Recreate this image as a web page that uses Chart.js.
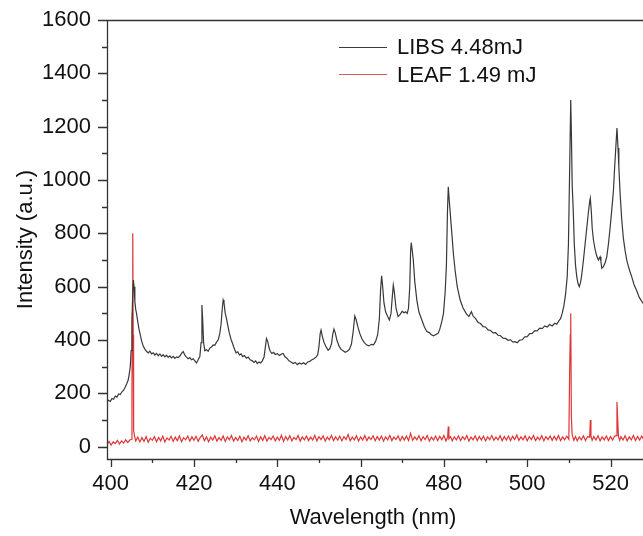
<!DOCTYPE html>
<html>
<head>
<meta charset="utf-8">
<title>LIBS / LEAF spectrum</title>
<script src="https://cdn.jsdelivr.net/npm/chart.js@4.4.1/dist/chart.umd.min.js"></script>
<style>
  html, body { margin: 0; padding: 0; background: #fff; }
  #wrap { width: 643px; height: 536px; }
</style>
</head>
<body>
<div id="wrap"><canvas id="spectrum" width="643" height="536"></canvas></div>
<script>
// series names + axis labels
const seriesNames = ['LIBS 4.48mJ', 'LEAF 1.49 mJ'];
const xTitle = 'Wavelength (nm)';
const yTitle = 'Intensity (a.u.)';

// tick values
const xTicks = [400, 420, 440, 460, 480, 500, 520];
const xMinorTicks = [410, 430, 450, 470, 490, 510];
const yTicks = [0, 200, 400, 600, 800, 1000, 1200, 1400, 1600];
const yMinorTicks = [100, 300, 500, 700, 900, 1100, 1300, 1500];

// LIBS spectrum: [wavelength nm, intensity]
const libsSpectrum = [
  [399.1,168],[399.5,174],[399.9,170],[400.3,181],[400.7,178],[401.1,190],[401.5,186],[401.9,198],
  [402.3,196],[402.7,206],[403.1,212],[403.5,224],[403.9,238],[404.2,250],[404.5,278],[404.7,300],
  [404.9,360],[405.1,470],[405.3,580],[405.45,625],[405.6,600],[405.8,545],[406.0,515],[406.2,500],
  [406.5,468],[406.8,440],[407.1,420],[407.4,398],[407.8,378],[408.2,366],[408.6,358],[409.0,352],
  [409.4,358],[409.8,348],[410.2,352],[410.6,344],[411.0,350],[411.4,341],[411.8,348],[412.2,339],
  [412.6,345],[413.0,337],[413.4,343],[413.8,335],[414.2,341],[414.6,333],[415.0,339],[415.4,331],
  [415.8,337],[416.2,334],[416.6,340],[417.0,350],[417.4,357],[417.8,343],[418.2,336],[418.6,330],
  [419.0,334],[419.4,326],[419.8,330],[420.2,322],[420.6,314],[421.0,326],[421.4,338],[421.7,390],
  [421.9,531],[422.1,470],[422.3,390],[422.6,360],[423.0,364],[423.4,358],[423.8,370],[424.2,374],
  [424.6,382],[425.0,380],[425.4,392],[425.8,400],[426.2,425],[426.5,460],[426.8,520],[427.0,550],
  [427.2,540],[427.5,500],[427.8,480],[428.1,455],[428.5,425],[428.9,402],[429.3,385],[429.7,366],
  [430.1,352],[430.5,356],[430.9,344],[431.3,348],[431.7,338],[432.1,342],[432.6,332],[433.0,336],
  [433.5,326],[434.0,322],[434.4,316],[434.8,322],[435.2,312],[435.6,318],[436.0,314],[436.4,322],
  [436.8,335],[437.1,370],[437.4,406],[437.7,395],[438.0,372],[438.3,358],[438.7,350],[439.1,354],
  [439.5,346],[440.0,349],[440.5,342],[441.0,348],[441.4,350],[441.8,338],[442.3,332],[442.8,322],
  [443.3,318],[443.8,312],[444.3,316],[444.8,308],[445.3,314],[445.8,310],[446.3,315],[446.8,309],
  [447.3,318],[447.8,320],[448.3,326],[448.8,330],[449.3,336],[449.7,345],[450.0,375],[450.3,425],
  [450.5,437],[450.8,415],[451.2,392],[451.7,375],[452.2,362],[452.6,368],[453.0,385],[453.3,420],
  [453.6,441],[453.9,428],[454.3,400],[454.8,378],[455.3,365],[455.8,360],[456.3,354],[456.8,358],
  [457.3,365],[457.8,385],[458.2,430],[458.6,490],[458.9,478],[459.3,452],[459.8,425],[460.3,405],
  [460.8,392],[461.4,382],[462.0,378],[462.6,384],[463.1,382],[463.6,395],[464.1,420],[464.5,480],
  [464.8,590],[465.05,641],[465.3,600],[465.6,540],[466.0,506],[466.5,488],[466.9,475],[467.3,500],
  [467.6,560],[467.85,606],[468.1,580],[468.5,520],[469.0,488],[469.5,496],[470.0,508],[470.4,502],
  [470.8,506],[471.2,500],[471.5,520],[471.8,600],[472.0,730],[472.15,765],[472.4,735],[472.65,700],
  [473.0,620],[473.5,550],[474.0,505],[474.7,475],[475.3,450],[475.9,432],[476.5,428],[477.0,420],
  [477.5,416],[478.0,420],[478.6,425],[479.0,440],[479.5,470],[479.9,500],[480.3,580],[480.6,680],
  [480.85,880],[481.05,975],[481.3,920],[481.6,860],[481.9,800],[482.3,720],[482.7,660],[483.2,600],
  [483.9,550],[484.6,520],[485.4,498],[486.0,488],[486.6,506],[487.0,490],[487.6,480],[488.2,466],
  [488.8,462],[489.4,450],[490.0,449],[490.6,438],[491.2,436],[491.8,427],[492.4,428],[493.0,418],
  [493.6,416],[494.2,407],[494.8,406],[495.4,399],[496.0,401],[496.6,392],[497.1,394],[497.6,390],
  [498.2,400],[498.8,401],[499.4,412],[500.0,413],[500.6,424],[501.2,425],[501.8,435],[502.4,434],
  [503.0,445],[503.6,443],[504.2,453],[504.8,449],[505.4,458],[506.0,453],[506.6,463],[507.1,459],
  [507.6,472],[508.0,480],[508.4,500],[508.8,528],[509.2,570],[509.6,637],[509.9,760],[510.2,1050],
  [510.45,1300],[510.6,1180],[510.8,980],[511.05,888],[511.3,760],[511.6,680],[511.9,637],[512.2,612],
  [512.5,600],[512.8,615],[513.1,645],[513.5,700],[513.9,760],[514.3,820],[514.7,880],[515.0,920],
  [515.15,932],[515.4,880],[515.6,820],[515.9,775],[516.3,740],[516.7,715],[517.1,700],[517.5,712],
  [517.7,695],[517.9,669],[518.3,675],[518.7,690],[519.1,712],[519.5,760],[519.9,820],[520.3,888],
  [520.7,960],[521.0,1050],[521.3,1130],[521.55,1195],[521.8,1120],[522.0,1050],[522.3,950],[522.7,850],
  [523.1,780],[523.5,735],[523.9,700],[524.4,670],[525.1,637],[525.7,605],[526.3,585],[526.9,560],
  [527.5,545],[527.9,537]
];

// LEAF spectrum: [wavelength nm, intensity]
const leafSpectrum = [
  [399.1,8],[399.6,20],[400.1,6],[400.6,18],[401.1,12],[401.6,24],[402.1,10],[402.6,22],
  [403.1,14],[403.6,26],[404.1,16],[404.6,25],[405.0,28],[405.1,200],[405.2,500],[405.3,800],
  [405.4,420],[405.5,60],[405.7,42],[406.0,22],[406.5,36],[407.0,18],[407.5,34],[408.0,20],
  [408.5,38],[409.0,17],[409.5,32],[410.0,24],[410.5,38],[411.0,19],[411.5,35],[412.0,22],
  [412.5,40],[413.0,18],[413.5,33],[414.0,25],[414.5,39],[415.0,20],[415.5,36],[416.0,23],
  [416.5,41],[417.0,19],[417.5,34],[418.0,26],[418.5,40],[419.0,21],[419.5,37],[420.0,24],
  [420.5,39],[421.0,20],[421.5,35],[422.0,44],[422.5,22],[423.0,37],[423.5,19],[424.0,36],
  [424.5,25],[425.0,41],[425.5,21],[426.0,34],[426.5,24],[427.0,40],[427.5,20],[428.0,37],
  [428.5,26],[429.0,42],[429.5,21],[430.0,35],[430.5,23],[431.0,39],[431.5,19],[432.0,36],
  [432.5,25],[433.0,41],[433.5,22],[434.0,34],[434.5,26],[435.0,40],[435.5,20],[436.0,37],
  [436.5,24],[437.0,42],[437.5,21],[438.0,35],[438.5,27],[439.0,40],[439.5,22],[440.0,36],
  [440.5,24],[441.0,43],[441.5,20],[442.0,38],[442.5,25],[443.0,41],[443.5,22],[444.0,35],
  [444.5,27],[445.0,42],[445.5,21],[446.0,37],[446.5,26],[447.0,40],[447.5,23],[448.0,36],
  [448.5,25],[449.0,43],[449.5,22],[450.0,38],[450.5,27],[451.0,41],[451.5,21],[452.0,36],
  [452.5,26],[453.0,42],[453.5,23],[454.0,37],[454.5,25],[455.0,40],[455.5,22],[456.0,38],
  [456.5,27],[457.0,46],[457.5,22],[458.0,36],[458.5,26],[459.0,41],[459.5,21],[460.0,37],
  [460.5,25],[461.0,42],[461.5,23],[462.0,36],[462.5,27],[463.0,41],[463.5,22],[464.0,38],
  [464.5,25],[465.0,40],[465.5,21],[466.0,37],[466.5,26],[467.0,42],[467.5,23],[468.0,36],
  [468.5,27],[469.0,41],[469.5,22],[470.0,38],[470.5,25],[471.0,40],[471.5,23],[472.0,50],
  [472.5,24],[473.0,37],[473.5,26],[474.0,41],[474.5,22],[475.0,38],[475.5,27],[476.0,42],
  [476.5,21],[477.0,36],[477.5,25],[478.0,40],[478.5,23],[479.0,39],[479.5,26],[480.0,42],
  [480.5,22],[480.9,36],[481.05,76],[481.2,30],[481.6,38],[482.0,22],[482.5,37],[483.0,26],
  [483.5,41],[484.0,23],[484.5,38],[485.0,27],[485.5,42],[486.0,21],[486.5,36],[487.0,26],
  [487.5,41],[488.0,23],[488.5,38],[489.0,25],[489.5,40],[490.0,22],[490.5,37],[491.0,27],
  [491.5,42],[492.0,24],[492.5,36],[493.0,26],[493.5,41],[494.0,22],[494.5,38],[495.0,25],
  [495.5,40],[496.0,23],[496.5,39],[497.0,27],[497.5,44],[498.0,24],[498.5,37],[499.0,26],
  [499.5,41],[500.0,22],[500.5,38],[501.0,27],[501.5,42],[502.0,23],[502.5,36],[503.0,26],
  [503.5,41],[504.0,22],[504.5,38],[505.0,27],[505.5,40],[506.0,24],[506.5,39],[507.0,25],
  [507.5,42],[508.0,23],[508.5,37],[509.0,26],[509.5,40],[510.0,28],[510.2,300],[510.35,420],
  [510.45,500],[510.6,110],[510.8,44],[511.2,24],[511.6,38],[512.0,22],[512.5,37],[513.0,26],
  [513.5,41],[514.0,23],[514.5,38],[515.0,36],[515.15,100],[515.3,40],[515.6,24],[516.0,38],
  [516.5,25],[517.0,41],[517.5,22],[518.0,37],[518.5,26],[519.0,40],[519.5,23],[520.0,38],
  [520.5,25],[521.0,40],[521.4,42],[521.55,168],[521.7,110],[521.9,40],[522.2,24],[522.5,38],
  [523.0,25],[523.5,41],[524.0,22],[524.5,37],[525.0,26],[525.5,42],[526.0,23],[526.5,38],
  [527.0,25],[527.5,40],[527.9,28]
];

const lineColors = ['#383838', '#de3535'];
const legendColors = ['#3d3d3d', '#d95a5a'];
const fontFamily = '"Liberation Sans", Arial, sans-serif';

// axes frame, tick marks, titles and legend drawn on top
const frameAndLegend = {
  id: 'frameAndLegend',
  afterDraw(chart) {
    const ctx = chart.ctx;
    const area = chart.chartArea;
    const xs = chart.scales.x;
    const ys = chart.scales.y;
    ctx.save();
    ctx.strokeStyle = '#333';
    ctx.lineWidth = 1.3;

    // left, bottom and top lines (right side is cut off)
    ctx.beginPath();
    ctx.moveTo(area.right, area.top + 0.5);
    ctx.lineTo(area.left + 0.5, area.top + 0.5);
    ctx.lineTo(area.left + 0.5, area.bottom + 0.5);
    ctx.lineTo(area.right, area.bottom + 0.5);
    ctx.stroke();

    // tick marks, pointing outward
    ctx.beginPath();
    xTicks.forEach(v => {
      const px = Math.round(xs.getPixelForValue(v)) + 0.5;
      ctx.moveTo(px, area.bottom);
      ctx.lineTo(px, area.bottom + 8);
    });
    xMinorTicks.forEach(v => {
      const px = Math.round(xs.getPixelForValue(v)) + 0.5;
      ctx.moveTo(px, area.bottom);
      ctx.lineTo(px, area.bottom + 4);
    });
    yTicks.forEach(v => {
      const py = Math.round(ys.getPixelForValue(v)) + 0.5;
      ctx.moveTo(area.left, py);
      ctx.lineTo(area.left - 9, py);
    });
    yMinorTicks.forEach(v => {
      const py = Math.round(ys.getPixelForValue(v)) + 0.5;
      ctx.moveTo(area.left, py);
      ctx.lineTo(area.left - 5, py);
    });
    ctx.stroke();

    // axis titles
    ctx.fillStyle = '#111';
    ctx.font = '22px ' + fontFamily;
    ctx.textAlign = 'center';
    ctx.textBaseline = 'alphabetic';
    ctx.fillText(xTitle, (area.left + area.right) / 2 - 2, 524);
    ctx.save();
    ctx.translate(32, (area.top + area.bottom) / 2);
    ctx.rotate(-Math.PI / 2);
    ctx.fillText(yTitle, 0, 0);
    ctx.restore();

    // legend
    ctx.textAlign = 'left';
    ctx.lineWidth = 1;
    seriesNames.forEach((name, i) => {
      const y = 46.5 + i * 27.5;
      ctx.strokeStyle = legendColors[i];
      ctx.beginPath();
      ctx.moveTo(339, Math.round(y) + 0.5);
      ctx.lineTo(387, Math.round(y) + 0.5);
      ctx.stroke();
      ctx.fillText(name, 397, y + 7.5);
    });
    ctx.restore();
  }
};

const tickFont = { family: fontFamily, size: 22, lineHeight: 1 };
const plainLabel = v => String(v);

new Chart(document.getElementById('spectrum'), {
  type: 'scatter',
  data: {
    datasets: [
      {
        label: seriesNames[0],
        data: libsSpectrum.map(p => ({ x: p[0], y: p[1] })),
        showLine: true,
        borderColor: lineColors[0],
        borderWidth: 1.2,
        pointRadius: 0,
        tension: 0
      },
      {
        label: seriesNames[1],
        data: leafSpectrum.map(p => ({ x: p[0], y: p[1] })),
        showLine: true,
        borderColor: lineColors[1],
        borderWidth: 1.2,
        pointRadius: 0,
        tension: 0
      }
    ]
  },
  options: {
    responsive: false,
    animation: false,
    layout: { padding: { top: 20, right: 0, left: 0, bottom: 0 } },
    plugins: {
      legend: { display: false },
      tooltip: { enabled: false }
    },
    scales: {
      x: {
        type: 'linear',
        min: 399.11,
        max: 527.8,
        afterFit: s => { s.height = 77; s.paddingLeft = 0; s.paddingRight = 0; },
        afterBuildTicks: s => { s.ticks = xTicks.map(v => ({ value: v })); },
        grid: { display: false, drawTicks: false },
        border: { display: false },
        ticks: { font: tickFont, color: '#111', padding: 14, maxRotation: 0, autoSkip: false, callback: plainLabel }
      },
      y: {
        type: 'linear',
        min: -46,
        max: 1600,
        afterFit: s => { s.width = 107; s.paddingTop = 0; s.paddingBottom = 0; },
        afterBuildTicks: s => { s.ticks = yTicks.map(v => ({ value: v })); },
        grid: { display: false, drawTicks: false },
        border: { display: false },
        ticks: { font: tickFont, color: '#111', padding: 16, autoSkip: false, callback: plainLabel }
      }
    }
  },
  plugins: [frameAndLegend]
});
</script>
</body>
</html>
